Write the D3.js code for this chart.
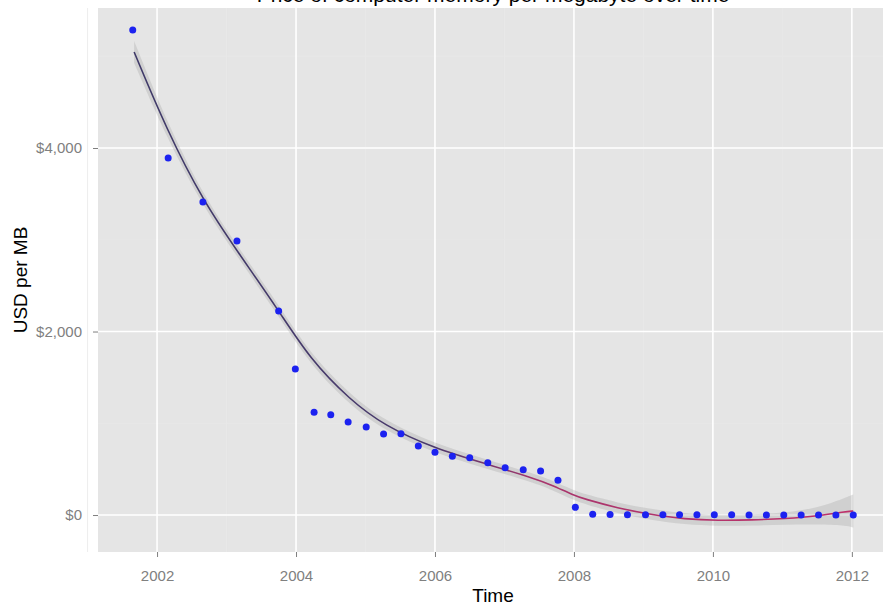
<!DOCTYPE html>
<html>
<head>
<meta charset="utf-8">
<script src="https://cdn.jsdelivr.net/npm/d3@7"></script>
<style>
  html, body { margin: 0; padding: 0; background: #ffffff; }
  svg { display: block; }
  text { font-family: "Liberation Sans", Arial, Helvetica, sans-serif; }
</style>
</head>
<body>
<svg id="chart" width="883" height="607"></svg>
<script>
// ---- data ----
const titleText = "Price of computer memory per megabyte over time";
const xTitle = "Time";
const yTitle = "USD per MB";

const times = [2001.65, 2002.16, 2002.66, 2003.15, 2003.75, 2003.99, 2004.26, 2004.50, 2004.75,
  2005.01, 2005.26, 2005.51, 2005.76, 2006.00, 2006.25, 2006.50, 2006.76, 2007.01, 2007.27,
  2007.52, 2007.77, 2008.02, 2008.27, 2008.52, 2008.77, 2009.03, 2009.28, 2009.52, 2009.77,
  2010.02, 2010.27, 2010.52, 2010.77, 2011.02, 2011.27, 2011.52, 2011.77, 2012.02];
const prices = [5286, 3891, 3411, 2986, 2223, 1591, 1119, 1093, 1014,
  959, 883, 886, 752, 683, 640, 625, 570, 516, 494,
  480, 378, 84, 8, 5, 4, 3, 3, 2, 2,
  2, 2, 1, 1, 1, 1, 1, 1, 1];

// smoothed fit (loess), with its confidence half-width
const fitTimes = [2001.67, 2002.14, 2002.67, 2003.15, 2003.75, 2004.20, 2004.78, 2005.27,
  2005.99, 2006.71, 2007.43, 2007.67, 2008.00, 2008.15, 2008.63, 2009.11, 2009.59,
  2010.08, 2010.56, 2011.04, 2011.52, 2011.90, 2012.02];
const fitValues = [5046, 4196, 3415, 2880, 2230, 1700, 1253, 975,
  727, 563, 400, 330, 215, 175, 75, 5, -45,
  -60, -54, -40, -11, 36, 44];
const fitSE = [120, 85, 65, 60, 60, 60, 58, 55,
  50, 50, 50, 52, 54, 55, 58, 60, 60,
  60, 60, 65, 90, 150, 180];

const xTicks = [2002, 2004, 2006, 2008, 2010, 2012];
const xMinor = [2001, 2003, 2005, 2007, 2009, 2011];
const yTicks = [0, 2000, 4000];
const yMinor = [1000, 3000, 5000];

// ---- layout ----
const panel = { left: 98, right: 888, top: 8, bottom: 552 };

const svg = d3.select("#chart");

const x = d3.scaleLinear().domain([2001.15, 2012.52]).range([panel.left, panel.right]);
const y = d3.scaleLinear().domain([-403, 5526]).range([panel.bottom, panel.top]);

// panel background
svg.append("rect")
  .attr("x", panel.left).attr("y", panel.top)
  .attr("width", panel.right - panel.left).attr("height", panel.bottom - panel.top)
  .attr("fill", "#e5e5e5");

const grid = svg.append("g");
// minor grid (very faint)
grid.selectAll("line.vmin").data(xMinor).join("line")
  .attr("x1", d => x(d)).attr("x2", d => x(d))
  .attr("y1", panel.top).attr("y2", panel.bottom)
  .attr("stroke", "#e9e9e9").attr("stroke-width", 0.8);
grid.selectAll("line.hmin").data(yMinor).join("line")
  .attr("y1", d => y(d)).attr("y2", d => y(d))
  .attr("x1", panel.left).attr("x2", panel.right)
  .attr("stroke", "#e9e9e9").attr("stroke-width", 0.8);
// major grid
grid.selectAll("line.vmaj").data(xTicks).join("line")
  .attr("x1", d => x(d)).attr("x2", d => x(d))
  .attr("y1", panel.top).attr("y2", panel.bottom)
  .attr("stroke", "#ffffff").attr("stroke-width", 1.6);
grid.selectAll("line.hmaj").data(yTicks).join("line")
  .attr("y1", d => y(d)).attr("y2", d => y(d))
  .attr("x1", panel.left).attr("x2", panel.right)
  .attr("stroke", "#ffffff").attr("stroke-width", 1.6);

// confidence band
const fit = fitTimes.map((t, i) => ({ t, v: fitValues[i], se: fitSE[i] }));
const area = d3.area()
  .x(d => x(d.t))
  .y0(d => y(d.v - d.se))
  .y1(d => y(d.v + d.se))
  .curve(d3.curveBasis);
svg.append("path").datum(fit)
  .attr("d", area)
  .attr("fill", "#999999").attr("fill-opacity", 0.28);

// gradient for smooth line
const defs = svg.append("defs");
const grad = defs.append("linearGradient")
  .attr("id", "lineGrad").attr("gradientUnits", "userSpaceOnUse")
  .attr("x1", panel.left).attr("x2", panel.right).attr("y1", 0).attr("y2", 0);
grad.append("stop").attr("offset", 0).attr("stop-color", "#3e3a68");
grad.append("stop").attr("offset", 0.42).attr("stop-color", "#4a3a6c");
grad.append("stop").attr("offset", 0.56).attr("stop-color", "#a8356c");
grad.append("stop").attr("offset", 1).attr("stop-color", "#c0306a");

const line = d3.line().x(d => x(d.t)).y(d => y(d.v)).curve(d3.curveBasis);
svg.append("path").datum(fit)
  .attr("d", line)
  .attr("fill", "none")
  .attr("stroke", "url(#lineGrad)")
  .attr("stroke-width", 1.6);

// points
const pts = times.map((t, i) => ({ t, v: prices[i] }));
svg.append("g").selectAll("circle").data(pts).join("circle")
  .attr("cx", d => x(d.t)).attr("cy", d => y(d.v))
  .attr("r", 3.5)
  .attr("fill", "#1c22f0");

// axes
const xAxis = d3.axisBottom(x).tickValues(xTicks).tickFormat(d3.format("d"))
  .tickSizeInner(5).tickSizeOuter(0).tickPadding(13);
const gx = svg.append("g").attr("transform", `translate(0,${panel.bottom})`).call(xAxis);
gx.select(".domain").remove();
gx.selectAll("line").attr("stroke", "#7f7f7f");
gx.selectAll("text").attr("fill", "#808080").attr("font-size", 15)
  .attr("font-family", "Liberation Sans, Arial, sans-serif");

const yAxis = d3.axisLeft(y).tickValues(yTicks).tickFormat(d3.format("$,"))
  .tickSizeInner(5).tickSizeOuter(0).tickPadding(11);
const gy = svg.append("g").attr("transform", `translate(${panel.left},0)`).call(yAxis);
gy.select(".domain").remove();
gy.selectAll("line").attr("stroke", "#7f7f7f");
gy.selectAll("text").attr("fill", "#808080").attr("font-size", 15)
  .attr("font-family", "Liberation Sans, Arial, sans-serif");

// axis titles
svg.append("text")
  .attr("x", (panel.left + panel.right) / 2).attr("y", 602)
  .attr("text-anchor", "middle").attr("font-size", 19).attr("fill", "#000")
  .text(xTitle);
svg.append("text")
  .attr("transform", `translate(27,${(panel.top + panel.bottom) / 2}) rotate(-90)`)
  .attr("text-anchor", "middle").attr("font-size", 19).attr("fill", "#000")
  .text(yTitle);

// title (cut off above the frame, as in the reference)
svg.append("text")
  .attr("x", (panel.left + panel.right) / 2).attr("y", 2)
  .attr("text-anchor", "middle").attr("font-size", 21).attr("fill", "#000")
  .text(titleText);
</script>
</body>
</html>
